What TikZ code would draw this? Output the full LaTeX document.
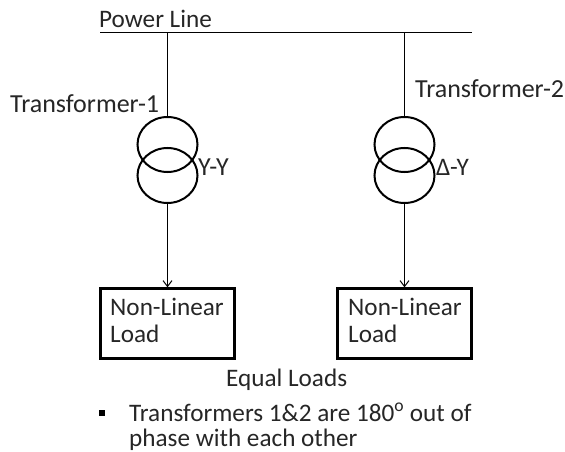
\documentclass[tikz,border=0pt]{standalone}
\usepackage{fontspec}
\setmainfont{Carlito}
\usepackage{tikz}
\usetikzlibrary{arrows.meta,shapes.geometric}
\tikzset{
  txt/.style={inner sep=0pt,anchor=base west,font=\fontsize{25.2}{28}\selectfont,text=black!85},
  bigtxt/.style={txt,font=\fontsize{26}{28}\selectfont},
  loadbox/.style={draw,line width=2.2pt,minimum width=134pt,minimum height=70pt},
  coil/.style={draw,line width=2pt,ellipse,minimum width=60pt,minimum height=55pt,inner sep=0pt},
  wire/.style={draw,line width=1pt},
}
\begin{document}
\begin{tikzpicture}[x=1pt,y=-1pt]
\useasboundingbox (0,0) rectangle (565,452);
\coordinate (lineL) at (100,33);
\coordinate (lineR) at (472,33);
\coordinate (top1) at (167.5,33);
\coordinate (top2) at (404.5,33);
\draw[wire] (lineL) -- (lineR);
\node[txt] (power) at (99,28) {Power Line};
\node[bigtxt] (tlabel1) at (10,112) {Transformer-1};
\node[bigtxt] (tlabel2) at (415,97) {Transformer-2};
\node[coil] (c1a) at (167.5,144.5) {};
\node[coil] (c1b) at (167.5,175.5) {};
\node[coil] (c2a) at (404.5,144.5) {};
\node[coil] (c2b) at (404.5,175.5) {};
\node[bigtxt] (yy) at (198,175) {Y-Y};
\node[txt] (dy) at (436,175) {Δ-Y};
\node[loadbox] (load1) at (167.5,323.5) {};
\node[loadbox] (load2) at (404.5,323.5) {};
\node[txt] (l1a) at (110,315) {Non-Linear};
\node[txt] (l1b) at (110,342) {Load};
\node[txt] (l2a) at (348,315) {Non-Linear};
\node[txt] (l2b) at (348,342) {Load};
\node[txt] (equal) at (226,386) {Equal Loads};
\node[fill=black,inner sep=0pt,minimum size=6pt] (bul) at (102,413) {};
\node[txt] (n1) at (129,421) {Transformers 1\&2 are 180\textsuperscript{o} out of};
\node[txt] (n2) at (129,446.5) {phase with each other};
\draw[wire] (top1) -- (c1a.north);
\draw[wire] (top2) -- (c2a.north);
\draw[wire,-{Straight Barb[length=6pt,width=9pt]}] (c1b.south) -- (load1.north);
\draw[wire,-{Straight Barb[length=6pt,width=9pt]}] (c2b.south) -- (load2.north);
\end{tikzpicture}
\end{document}
